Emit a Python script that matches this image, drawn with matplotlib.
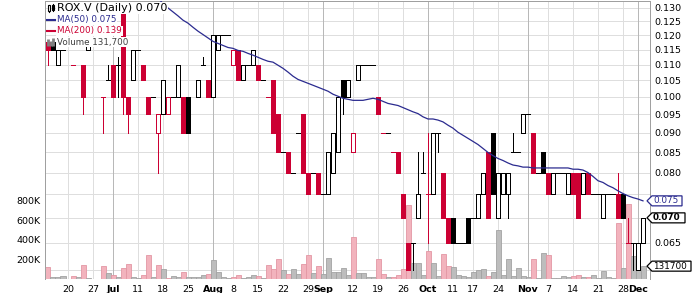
"""ROX.V daily candlestick chart with MA(50) and a volume overlay."""
import numpy as np
import pandas as pd
import matplotlib
matplotlib.use("Agg")
import matplotlib.pyplot as plt
from matplotlib.lines import Line2D
from matplotlib.patches import Polygon, Rectangle
from matplotlib.ticker import FixedLocator, NullLocator

nan = np.nan

HOLIDAYS = ["2011-07-01", "2011-08-01", "2011-09-05", "2011-10-10"]
TRADING_DAYS = [d for d in pd.bdate_range("2011-06-14", "2011-12-02")
                if d.strftime("%Y-%m-%d") not in HOLIDAYS]

# daily prices, one entry per trading day (nan = no trade drawn)
OPEN = [
    .1175, .1175, .110, .115, nan, .110, nan, .110, .115, nan,
    nan, .100, .105, .110, .110, .130, .100, .105, .115, .110,
    .100, .100, .090, .095, .095, .100, .100, .100, .100, nan,
    .100, .110, .105, .100, .115, .120, .120, .110, .115, .105,
    .110, .110, .110, .105, .100, .105, .095, .085, .085, .080,
    .090, .095, .080, .080, .080, .075, .075, .080, .085, .105,
    .100, .085, .105, .110, .110, .110, .100, .090, .090, .085,
    .085, .075, .065, .065, .070, .080, .075, .075, .090, .080,
    .070, .070, .065, .065, .070, .070, .070, .075, .085, .090,
    .070, .075, .075, .085, .085, .090, .095, .090, .080, .085,
    .080, .075, .080, .080, .075, .080, .080, .075, .080, .075,
    .075, .070, .075, .075, .075, .075, .065, .065, .060, .065,
]
HIGH = [
    .1175, .1175, .115, .115, nan, .110, nan, .110, .1175, nan,
    nan, .100, .110, .110, .1125, .130, .100, .115, .115, .110,
    .100, .100, .095, .105, .100, .100, .110, .100, .100, nan,
    .105, .1125, .105, .120, .120, .120, .120, .115, .115, .110,
    .110, .115, .110, .105, .100, .105, .095, .085, .085, .080,
    .090, .095, .080, .080, .080, .075, .085, .090, .100, .105,
    .105, .090, .110, .110, .110, .110, .100, .090, .090, .085,
    .085, .075, .065, .065, .085, .085, .090, .090, .090, .080,
    .070, .070, .065, .065, .070, .070, .075, .080, .085, .090,
    .080, .080, .080, .090, .085, .095, .095, .090, .080, .085,
    .080, .080, .080, .080, .080, .080, .080, .080, .080, .075,
    .075, .075, .075, .075, .080, .075, .070, .065, .065, .070,
]
LOW = [
    .110, .115, .110, .115, nan, .110, nan, .095, .115, nan,
    nan, .090, .105, .100, .100, .095, .090, .105, .115, .105,
    .095, .100, .080, .095, .095, .100, .100, .090, .090, nan,
    .100, .110, .100, .100, .115, .120, .120, .110, .105, .105,
    .110, .110, .105, .105, .100, .090, .085, .085, .080, .080,
    .090, .080, .075, .080, .075, .075, .075, .080, .085, .095,
    .100, .085, .105, .110, .110, .110, .095, .090, .090, .085,
    .080, .070, .060, .060, .070, .080, .065, .075, .085, .070,
    .065, .065, .065, .065, .065, .070, .070, .075, .070, .075,
    .070, .075, .070, .085, .085, .090, .095, .080, .080, .080,
    .075, .075, .080, .080, .075, .075, .070, .075, .075, .075,
    .075, .070, .075, .075, .070, .070, .065, .060, .060, .065,
]
CLOSE = [
    .115, .115, .115, .115, nan, .110, nan, .100, .1175, nan,
    nan, .100, .105, .100, .110, .100, .095, .115, .115, .105,
    .095, .100, .095, .105, .100, .100, .110, .090, .090, nan,
    .105, .110, .100, .120, .120, .120, .120, .115, .105, .110,
    .110, .115, .105, .105, .100, .090, .085, .085, .080, .080,
    .090, .080, .075, .080, .075, .075, .085, .090, .100, .100,
    .105, .090, .110, .110, .110, .110, .095, .090, .090, .085,
    .080, .070, .060, .065, .075, .080, .075, .090, .090, .070,
    .065, .065, .065, .065, .065, .070, .075, .080, .070, .075,
    .080, .080, .080, .085, .085, .095, .095, .080, .080, .080,
    .075, .080, .080, .080, .080, .075, .070, .080, .075, .075,
    .075, .075, .075, .075, .070, .070, .065, .065, .065, .070,
]
# volume in thousands of shares
VOLUME_K = [
    120, 25, 20, 30, 0, 30, 20, 140, 15, 0,
    0, 130, 65, 45, 25, 110, 150, 20, 10, 40,
    250, 20, 140, 100, 15, 30, 20, 75, 25, 20,
    20, 40, 50, 190, 75, 20, 10, 25, 40, 15,
    25, 40, 30, 10, 140, 100, 200, 90, 55, 100,
    55, 150, 250, 60, 130, 55, 220, 75, 70, 115,
    40, 430, 65, 65, 20, 20, 200, 55, 20, 25,
    40, 100, 760, 160, 160, 40, 290, 160, 30, 260,
    130, 125, 40, 30, 20, 75, 90, 105, 30, 75,
    500, 40, 210, 30, 115, 30, 20, 210, 10, 265,
    250, 10, 10, 30, 20, 30, 40, 20, 20, 40,
    10, 85, 20, 10, 570, 115, 770, 240, 90, 131.7,
]
# 50-day moving average (above the visible range before late July)
MA_50 = [nan] * 22 + [
    .1340, .1316, .1300, .1285, .1270, .1254, .1243, .1228, .1214, .1202,
    .1190, .1178, .1171, .1164, .1157, .1154, .1147, .1144, .1137, .1131,
    .1124, .1117, .1111, .1108, .1098, .1088, .1076, .1063, .1053, .1047,
    .1041, .1035, .1029, .1023, .1017, .1008, .1002, .0996, .0993, .0990,
    .0990, .0990, .0993, .0996, .0993, .0987, .0981, .0978, .0975, .0969,
    .0963, .0957, .0952, .0943, .0937, .0937, .0934, .0929, .0920, .0912,
    .0901, .0893, .0885, .0877, .0869, .0859, .0849, .0841, .0834, .0829,
    .0823, .0818, .0816, .0813, .0813, .0811, .0811, .0811, .0811, .0811,
    .0811, .0811, .0811, .0808, .0808, .0806, .0800, .0791, .0781, .0777,
    .0770, .0765, .0758, .0752, .0747, .0743, .0740, .0736,
]

TICK_DATES = [
    "2011-06-20", "2011-06-27", "2011-07-04", "2011-07-11", "2011-07-18",
    "2011-07-25", "2011-08-02", "2011-08-08", "2011-08-15", "2011-08-22",
    "2011-08-29", "2011-09-01", "2011-09-12", "2011-09-19", "2011-09-26",
    "2011-10-03", "2011-10-11", "2011-10-17", "2011-10-24", "2011-11-01",
    "2011-11-07", "2011-11-14", "2011-11-21", "2011-11-28", "2011-12-01",
]
TICK_LABELS = [
    "20", "27", "Jul", "11", "18", "25", "Aug", "8", "15", "22", "29", "Sep",
    "12", "19", "26", "Oct", "11", "17", "24", "Nov", "7", "14", "21", "28", "Dec",
]
PRICE_TICKS = [0.060, 0.065, 0.070, 0.075, 0.080, 0.085, 0.090, 0.095,
               0.100, 0.105, 0.110, 0.115, 0.120, 0.125, 0.130]
VOLUME_TICKS = [200e3, 400e3, 600e3, 800e3]
LEGEND_ROWS = ["ROX.V (Daily) 0.070", "MA(50) 0.075", "MA(200) 0.139", "Volume 131,700"]

RED = "#cc0033"
BLACK = "#000000"
NAVY = "#2b2b8f"
GRID = "#dedede"
ONE_PX = 0.72  # line width in points that gives one pixel at 100 dpi

W_PX, H_PX = 700, 293


def px(x, y):
    """Pixel position (from top-left) to figure fraction."""
    return x / W_PX, 1 - y / H_PX


def candle_colours(o, c):
    colours, prev = [], None
    for oi, ci in zip(o, c):
        if np.isnan(ci):
            colours.append(None)
            continue
        ref = oi if prev is None else prev
        colours.append(BLACK if ci >= ref else RED)
        prev = ci
    return colours


def draw_candles(ax, x, o, h, l, c, colours, width=0.72):
    for xi, oi, hi, li, ci, col in zip(x, o, h, l, c, colours):
        if col is None:
            continue
        top, bot = max(oi, ci), min(oi, ci)
        kw = dict(color=col, lw=ONE_PX, solid_capstyle="butt", antialiased=False, zorder=4)
        if hi > top:
            ax.plot([xi, xi], [top, hi], **kw)
        if li < bot:
            ax.plot([xi, xi], [li, bot], **kw)
        if ci == oi:
            ax.plot([xi - width / 2, xi + width / 2], [ci, ci], **kw)
        else:
            face = col if ci < oi else "white"
            ax.add_patch(Rectangle((xi - width / 2, bot), width, top - bot,
                                   facecolor=face, edgecolor=col, lw=ONE_PX,
                                   antialiased=False, zorder=5))


def value_tag(fig, trans, value, text, colour, right_px, bold=False):
    y = trans.transform((0, value))[1] / fig.bbox.height
    half = 5 / H_PX
    tip, left, right = 647 / W_PX, 652 / W_PX, right_px / W_PX
    fig.add_artist(Polygon([(tip, y), (left, y + half), (right, y + half),
                            (right, y - half), (left, y - half)],
                           closed=True, transform=fig.transFigure,
                           facecolor="white", edgecolor=colour, lw=0.9, zorder=5))
    fig.text(653 / W_PX, y, text, fontsize=6.4, color=colour, va="center", ha="left",
             fontweight="bold" if bold else "normal", zorder=6)


def main():
    x = np.arange(len(TRADING_DAYS))
    day_keys = [d.strftime("%Y-%m-%d") for d in TRADING_DAYS]
    tick_pos = [day_keys.index(d) for d in TICK_DATES]
    colours = candle_colours(OPEN, CLOSE)
    volume = np.array(VOLUME_K) * 1000

    fig = plt.figure(figsize=(7, 2.93), dpi=100, facecolor="white")
    rect = [45 / W_PX, 14 / H_PX, 605 / W_PX, 278 / H_PX]
    ax = fig.add_axes(rect)
    ax_vol = ax.twinx()
    ax.set_zorder(2)
    ax_vol.set_zorder(1)
    ax.patch.set_visible(False)

    ax.set_yscale("log")
    ax.set_ylim(0.05845, 0.1327)
    ax.set_xlim(-0.6, 120.4)

    # grid lines sit on the volume axes so the bars cover them
    for p in PRICE_TICKS:
        ax_vol.add_line(Line2D([-1, 121], [p, p], transform=ax.transData,
                               color=GRID, lw=ONE_PX, zorder=0))
    for pos, lab in zip(tick_pos, TICK_LABELS):
        ax_vol.axvline(pos, color="#b8b8b8" if lab.isalpha() else GRID, lw=ONE_PX, zorder=0)

    vol_face = ["#f2b3bd" if col == RED else "#bdbdbd" for col in colours]
    vol_edge = ["#e397a4" if col == RED else "#a3a3a3" for col in colours]
    ax_vol.bar(x, volume, width=1.0, color=vol_face, edgecolor=vol_edge,
               linewidth=0.6, zorder=2)
    ax_vol.set_ylim(0, 2.85e6)

    draw_candles(ax, x, OPEN, HIGH, LOW, CLOSE, colours)
    ax.plot(x, MA_50, color=NAVY, lw=0.9, zorder=6)

    # axes styling
    ax.yaxis.tick_right()
    ax.yaxis.set_major_locator(FixedLocator(PRICE_TICKS))
    ax.yaxis.set_minor_locator(NullLocator())
    hidden = (0.060, 0.070, 0.075)  # covered by the value tags
    ax.set_yticklabels(["" if p in hidden else f"{p:.3f}" for p in PRICE_TICKS])
    ax.tick_params(axis="y", which="both", length=0, pad=3, labelsize=6.8)
    ax.set_xticks(tick_pos)
    ax.set_xticklabels(TICK_LABELS)
    ax.tick_params(axis="x", length=0, pad=4, labelsize=6.8)
    for t in ax.get_xticklabels():
        if t.get_text().isalpha():
            t.set_fontweight("bold")

    ax_vol.yaxis.tick_left()
    ax_vol.set_yticks(VOLUME_TICKS)
    ax_vol.set_yticklabels([f"{int(v / 1000)}K" for v in VOLUME_TICKS])
    ax_vol.tick_params(axis="y", length=0, pad=3, labelsize=6.8)

    for sp in ax_vol.spines.values():
        sp.set_visible(False)
    ax.spines["bottom"].set_visible(False)
    for side in ("left", "top", "right"):
        ax.spines[side].set_color("#a0a0a0")
        ax.spines[side].set_linewidth(ONE_PX)
    ax.spines["right"].set_linestyle((0, (1, 1)))

    # legend rows in the top-left corner
    row_y = [8, 19.5, 31, 42]
    row_colour = [BLACK, NAVY, RED, "#404040"]
    row_size = [8, 6.3, 6.3, 6.3]
    for text, yy, col, size in zip(LEGEND_ROWS, row_y, row_colour, row_size):
        fig.text(*px(57, yy), text, fontsize=size, color=col, va="center", ha="left",
                 bbox=dict(facecolor="white", edgecolor="none", pad=0.6), zorder=4)
    fig.add_artist(Line2D(*zip(px(47, 19.5), px(55, 19.5)), color=NAVY, lw=1.5,
                          transform=fig.transFigure, zorder=5))
    fig.add_artist(Line2D(*zip(px(47, 31), px(55, 31)), color=RED, lw=1.5,
                          transform=fig.transFigure, zorder=5))
    for bx, top in ((48, 39), (50.5, 41), (53, 37.5)):
        fig.add_artist(Line2D(*zip(px(bx, top), px(bx, 45.5)), color="#808080", lw=2,
                              solid_capstyle="butt", transform=fig.transFigure, zorder=5))
    for bx, top, bot, filled in ((49, 5.5, 11, False), (53, 4.5, 10, True)):
        fig.add_artist(Line2D(*zip(px(bx, top - 1), px(bx, bot + 1)), color=BLACK, lw=0.8,
                              transform=fig.transFigure, zorder=5))
        x0, y0 = px(bx - 1.3, bot)
        x1, y1 = px(bx + 1.3, top)
        fig.add_artist(Rectangle((x0, y0), x1 - x0, y1 - y0, transform=fig.transFigure,
                                 facecolor=BLACK if filled else "white", edgecolor=BLACK,
                                 lw=0.8, zorder=6))

    # last-value tags on the right edge
    value_tag(fig, ax.transData, MA_50[-1], "0.075", NAVY, 682)
    value_tag(fig, ax.transData, CLOSE[-1], "0.070", BLACK, 685, bold=True)
    value_tag(fig, ax_vol.transData, volume[-1], "131700", BLACK, 691)

    fig.savefig("out.png", dpi=100, facecolor="white")
    plt.close(fig)


if __name__ == "__main__":
    main()
